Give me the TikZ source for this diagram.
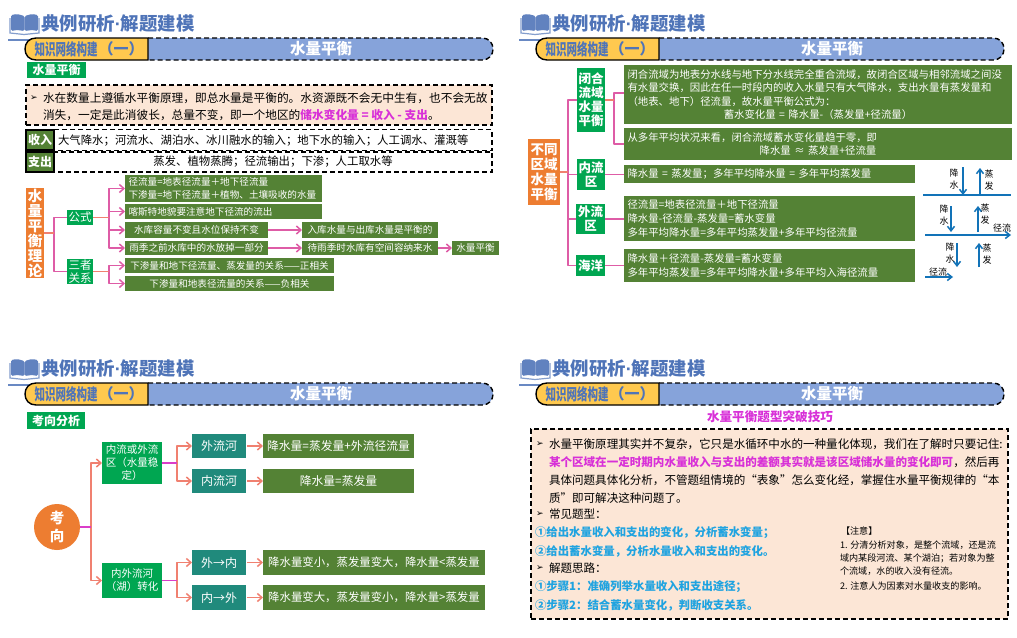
\documentclass[tikz,border=0pt]{standalone}
\usepackage{graphicx}
\usepackage{fontspec}
\setmainfont{Noto Sans CJK SC}
\newfontfamily\symf{DejaVu Sans}
\newfontfamily\dotf{Liberation Sans}
\usetikzlibrary{arrows.meta,calc}
\definecolor{ggreen}{HTML}{548235}
\definecolor{bgreen}{HTML}{00A651}
\definecolor{teal1}{HTML}{208A7C}
\definecolor{orng}{HTML}{ED7D31}
\definecolor{peach}{HTML}{FCE6D6}
\definecolor{pnk}{HTML}{DE5CA6}
\definecolor{salm}{HTML}{F08070}
\definecolor{magn}{HTML}{D830D8}
\definecolor{sky}{HTML}{1FA3E0}
\definecolor{arrowb}{HTML}{1273B8}
\definecolor{ttl}{HTML}{4F74B8}
\definecolor{pillb}{HTML}{86A3DA}
\definecolor{pillo}{HTML}{FFC94F}
\newcommand\fl[2]{\fontsize{#1}{#2}\selectfont}
\tikzset{
  boxbase/.style={inner sep=0pt,outer sep=0pt,text=white,align=center},
  dashbox/.style={draw=black,line width=1.4pt,dash pattern=on 5pt off 3pt},
  conn/.style={line width=1.6pt,line join=round},
  tip/.style={-{Straight Barb[length=4.5pt,width=8pt,line width=1.5pt]}},
  blue arrow/.style={draw=arrowb,line width=1.5pt,-{Straight Barb[length=4.5pt,width=7pt,line width=1.5pt]}},
  plain text/.style={inner sep=0pt,outer sep=0pt,anchor=west},
  small label/.style={inner sep=0pt,outer sep=0pt,font=\fl{9}{11.5},align=center,text=black}
}
% box: options, name, x1,y1,x2,y2, text
\newcommand\bx[7][]{%
  \node[boxbase,minimum width={(#5-#3)*1pt},minimum height={(#6-#4)*1pt},#1] (#2) at ({(#3+#5)/2},{(#4+#6)/2}) {#7};}
% left-aligned green box
\newcommand\lb[7][]{%
  \pgfmathsetlengthmacro{\tw}{(#5-#3-7)*1pt}%
  \node[boxbase,fill=ggreen,minimum height={(#6-#4)*1pt},text width=\tw,inner xsep=3.5pt,align=left,#1] (#2) at ({(#3+#5)/2},{(#4+#6)/2}) {#7};}
\newcounter{tln}
\newcommand\tl[4][]{\stepcounter{tln}\node[plain text,#1] (tl\arabic{tln}) at (#2,#3) {#4};}
% elbow connector: from, horizontal distance, to, tip style
\newcommand\elbow[4][tip]{%
  \draw[conn,pnk,#1] (#2.east) -- ++(#3,0) |- (#4.west);
  \draw[conn,salm] (#2.east) -- ++(#3,0);}
\newcommand\hdr[3]{%
\begin{scope}[shift={(#2,#3)}]
  \fill[ttl!90!white,rounded corners=1.5pt] (11,15) -- (17,14) -- (24.6,16) -- (24.6,31) -- (17,30) -- (11,31) -- cycle;
  \fill[ttl!90!white,rounded corners=1.5pt] (24.6,16) -- (32,14) -- (38,15) -- (38,31) -- (32,30) -- (24.6,31) -- cycle;
  \draw[ttl!70!white,line width=1.2pt] (10,18) -- (10,33) -- (24,34.5) -- (39,33) -- (39,18);
  \draw[ttl!85!white,line width=1.4pt] (8,40) -- (40,40);
  \node[inner sep=0pt,text=ttl,anchor=west,font=\fontsize{18.4}{18.4}\selectfont\bfseries] (#1ttl) at (41,24) {典例研析{\dotf ·}解题建模};
  \fill[pillb] (148,38) -- (482,38) .. controls (489,38) and (493,43) .. (493,49) .. controls (493,55) and (489,60) .. (482,60) -- (148,60) -- cycle;
  \draw[dashbox] (148,38) -- (482,38) .. controls (489,38) and (493,43) .. (493,49) .. controls (493,55) and (489,60) .. (482,60) -- (148,60);
  \draw[fill=pillo,draw=black,line width=1.4pt] (148,38) -- (36,38) .. controls (29,38) and (25,43) .. (25,49) .. controls (25,55) and (29,60) .. (36,60) -- (148,60) -- cycle;
  \node[inner sep=0pt,text=ttl,font=\fontsize{13}{13}\selectfont\bfseries] (#1left) at (66,49) {\resizebox{63pt}{14pt}{知识网络构建}};
  \node[inner sep=0pt,text=ttl,font=\fontsize{15}{15}\selectfont\bfseries] (#1one) at (121,49) {（一）};
  \node[inner sep=0pt,text=white,font=\fontsize{15.5}{15.5}\selectfont\bfseries] (#1mid) at (321,49) {水量平衡};
\end{scope}}
\begin{document}
\begin{tikzpicture}[x=1pt,y=-1pt]
\useasboundingbox (0,0) rectangle (1017,637);
\fill[white] (0,0) rectangle (1017,637);
\hdr{ha}{0}{0}
\hdr{hb}{511}{0}
\hdr{hc}{0}{345}
\hdr{hd}{511}{345}

%%%%%%%%%%%% panel 1
\bx[fill=bgreen,font=\fl{12}{14}\bfseries]{tagA}{27}{62}{86}{78}{水量平衡}
\node[fill=peach,dashbox,minimum width=466pt,minimum height=40pt,inner sep=0pt] (intro) at (259,105) {};
\tl[font=\symf\fl{9}{11}]{30}{98}{➢}
\tl[font=\fl{11.7}{14}]{43}{98}{水在数量上遵循水平衡原理，即总水量是平衡的。水资源既不会无中生有，也不会无故}
\tl[font=\fl{11.7}{14}]{43}{115}{消失，一定是此消彼长，总量不变，即一个地区的\textcolor{magn}{\bfseries 储水变化量 = 收入 - 支出}。}
\node[dashbox,minimum width=466pt,minimum height=21pt,inner sep=0pt] (rowA) at (259,140) {};
\node[dashbox,minimum width=466pt,minimum height=20pt,inner sep=0pt] (rowB) at (259,162) {};
\bx[fill=ggreen,draw=black,line width=1.4pt,font=\fl{12}{14}\bfseries]{lblA}{26}{130}{54}{150}{收入}
\bx[fill=ggreen,draw=black,line width=1.4pt,font=\fl{12}{14}\bfseries]{lblB}{26}{152}{54}{172}{支出}
\tl[font=\fl{11.4}{14}]{58}{141}{大气降水；河流水、湖泊水、冰川融水的输入；地下水的输入；人工调水、灌溉等}
\node[inner sep=0pt,font=\fl{11.4}{14}] (rowBt) at (273,162) {蒸发、植物蒸腾；径流输出；下渗；人工取水等};

\bx[fill=orng,font=\fl{14.5}{15}\bfseries]{rootA}{26}{188}{44}{278}{水\\量\\平\\衡\\理\\论}
\bx[fill=bgreen,font=\fl{11.5}{14}]{gongshi}{67}{210}{93}{225}{公式}
\bx[fill=bgreen,font=\fl{11.5}{13}]{sanzhe}{67}{259}{93}{284}{三者\\关系}
\lb[font=\fl{9.6}{12.5}]{a1}{125}{175}{322}{202}{径流量=地表径流量＋地下径流量\\下渗量=地下径流量＋植物、土壤吸收的水量}
\lb[font=\fl{9.6}{12.5}]{a2}{125}{204}{322}{219}{喀斯特地貌要注意地下径流的流出}
\bx[fill=ggreen,font=\fl{9.6}{12.5}]{a3}{125}{222}{268}{238}{水库容量不变且水位保持不变}
\bx[fill=ggreen,font=\fl{9.6}{12.5}]{a4}{125}{241}{268}{255}{雨季之前水库中的水放掉一部分}
\bx[fill=ggreen,font=\fl{9.6}{12.5}]{a5}{302}{222}{438}{238}{入库水量与出库水量是平衡的}
\bx[fill=ggreen,font=\fl{9.6}{12.5}]{a6}{302}{241}{438}{255}{待雨季时水库有空间容纳来水}
\bx[fill=ggreen,font=\fl{9.6}{12.5}]{a7}{452}{241}{499}{255}{水量平衡}
\bx[fill=ggreen,font=\fl{9.6}{12.5}]{a8}{125}{258}{334}{273}{下渗量和地下径流量、蒸发量的关系——正相关}
\bx[fill=ggreen,font=\fl{9.6}{12.5}]{a9}{125}{276}{334}{291}{下渗量和地表径流量的关系——负相关}
\elbow[]{rootA}{10}{gongshi}
\elbow[]{rootA}{10}{sanzhe}
\elbow{gongshi}{16}{a1}
\elbow{gongshi}{16}{a2}
\elbow{gongshi}{16}{a3}
\elbow{gongshi}{16}{a4}
\elbow{sanzhe}{16}{a8}
\elbow{sanzhe}{16}{a9}
\draw[conn,pnk,tip] (a3.east) -- (a5.west);
\draw[conn,pnk,tip] (a4.east) -- (a6.west);
\draw[conn,pnk,tip] (a6.east) -- (a7.west);

%%%%%%%%%%%% panel 2
\bx[fill=orng,font=\fl{13.5}{15}\bfseries]{rootB}{528}{139}{560}{205}{不同\\区域\\水量\\平衡}
\bx[fill=bgreen,font=\fl{12.5}{14}\bfseries]{n1}{577}{68}{605}{132}{闭合\\流域\\水量\\平衡}
\bx[fill=bgreen,font=\fl{12.5}{14}\bfseries]{n2}{577}{159}{605}{190}{内流\\区}
\bx[fill=bgreen,font=\fl{12.5}{14}\bfseries]{n3}{576}{204}{605}{234}{外流\\区}
\bx[fill=bgreen,font=\fl{12.5}{14}\bfseries]{n4}{576}{255}{605}{276}{海洋}
\pgfmathsetlengthmacro{\wgone}{381pt}
\lb[font=\fl{10.4}{13.4}]{g1}{624}{65}{1012}{124}{闭合流域为地表分水线与地下分水线完全重合流域，故闭合区域与相邻流域之间没\\有水量交换，因此在任一时段内的收入水量只有大气降水，支出水量有蒸发量和\\（地表、地下）径流量，故水量平衡公式为：\\\hbox to \wgone{\hss 蓄水变化量 = 降水量-（蒸发量+径流量）\hss}}
\lb[font=\fl{10.4}{13.4}]{g2}{624}{128}{1012}{160}{从多年平均状况来看，闭合流域蓄水变化量趋于零，即\\\hbox to \wgone{\hss 降水量 ≈ 蒸发量+径流量\hss}}
\lb[font=\fl{10.4}{13.4}]{g3}{624}{165}{915}{183}{降水量 = 蒸发量；多年平均降水量 = 多年平均蒸发量}
\lb[font=\fl{10.4}{14}]{g4}{624}{196}{915}{241}{径流量=地表径流量＋地下径流量\\降水量-径流量-蒸发量=蓄水变量\\多年平均降水量=多年平均蒸发量+多年平均径流量}
\lb[font=\fl{10.4}{14}]{g5}{624}{249}{915}{282}{降水量＋径流量-蒸发量=蓄水变量\\多年平均蒸发量=多年平均降水量+多年平均入海径流量}
\elbow[]{rootB}{8}{n1}
\elbow[]{rootB}{8}{n2}
\elbow[]{rootB}{8}{n3}
\elbow[]{rootB}{8}{n4}
\coordinate (g1in) at (624,93);
\coordinate (g2in) at (624,144);
\draw[conn,pnk] (n1.east) -- ++(9,0) |- (g1in);
\draw[conn,pnk] (n1.east) -- ++(9,0) |- (g2in);
\draw[conn,salm] (n1.east) -- ++(9,0);
\draw[conn,pnk] (n2.east) -- (n2.east-|g3.west);
\draw[conn,pnk] (n3.east) -- (n3.east-|g4.west);
\draw[conn,pnk] (n4.east) -- (n4.east-|g5.west);

% water balance sketches
\coordinate (l1a) at (923,195); \coordinate (l1b) at (1011,195);
\draw[arrowb,line width=1.5pt] (l1a) -- (l1b);
\coordinate (p1) at (963,167); \coordinate (p1e) at (963,195);
\coordinate (e1) at (980,195); \coordinate (e1e) at (980,168);
\draw[blue arrow] (p1) -- (p1e);
\draw[blue arrow] (e1) -- (e1e);
\node[small label] (t1) at (954,179) {降\\水};
\node[small label] (t2) at (989,180) {蒸\\发};
\coordinate (l2a) at (925,235); \coordinate (l2b) at (1011,235);
\draw[blue arrow] (l2a) -- (l2b);
\coordinate (p2) at (951,206); \coordinate (p2e) at (951,232);
\coordinate (e2) at (978,232); \coordinate (e2e) at (978,206);
\draw[blue arrow] (p2) -- (p2e);
\draw[blue arrow] (e2) -- (e2e);
\node[small label] (t3) at (944,215) {降\\水};
\node[small label] (t4) at (985,214) {蒸\\发};
\node[small label] (t5) at (1002,228) {径流};
\coordinate (p3) at (957,243); \coordinate (p3e) at (957,267);
\coordinate (e3) at (979,267); \coordinate (e3e) at (979,243);
\coordinate (r3) at (925,277); \coordinate (r3e) at (953,277);
\draw[blue arrow] (p3) -- (p3e);
\draw[blue arrow] (e3) -- (e3e);
\draw[blue arrow] (r3) -- (r3e);
\node[small label] (t6) at (950,253) {降\\水};
\node[small label] (t7) at (987,254) {蒸\\发};
\node[small label] (t8) at (938,272) {径流};

%%%%%%%%%%%% panel 3
\bx[fill=bgreen,font=\fl{12}{14}\bfseries]{tagC}{27}{412}{85}{429}{考向分析}
\node[circle,fill=orng,minimum size=46pt,inner sep=0pt,outer sep=0pt,text=white,align=center,font=\fl{14.5}{18}\bfseries] (rootC) at (57,527) {考\\向};
\bx[fill=bgreen,font=\fl{10.5}{13}]{p1n}{102}{442}{162}{484}{内流或外流\\区（水量稳\\定）}
\bx[fill=bgreen,font=\fl{10.5}{13}]{p2n}{102}{563}{162}{598}{内外流河\\（湖）转化}
\bx[fill=teal1,font=\fl{12}{14}]{r1}{192}{434}{246}{458}{外流河}
\bx[fill=teal1,font=\fl{12}{14}]{r2}{192}{469}{246}{493}{内流河}
\bx[fill=teal1,font=\fl{12}{14}]{r3n}{192}{550}{246}{575}{外→内}
\bx[fill=teal1,font=\fl{12}{14}]{r4}{192}{585}{246}{610}{内→外}
\bx[fill=ggreen,font=\fl{11.8}{14}]{s1}{263}{434}{414}{458}{降水量=蒸发量+外流径流量}
\bx[fill=ggreen,font=\fl{11.8}{14}]{s2}{263}{469}{414}{493}{降水量=蒸发量}
\bx[fill=ggreen,font=\fl{11.4}{14}]{s3}{263}{550}{485}{575}{降水量变小，蒸发量变大，降水量<蒸发量}
\bx[fill=ggreen,font=\fl{11.4}{14}]{s4}{263}{585}{485}{610}{降水量变大，蒸发量变小，降水量>蒸发量}
\newcommand\elbowc[3]{%
  \draw[conn,salm,tip] (#1.east) -- ++(#2,0) |- (#3.west);
  \draw[conn,magn!70!pnk] (#1.east) -- ++(#2,0);}
\elbowc{rootC}{11}{p1n}
\elbowc{rootC}{11}{p2n}
\elbowc{p1n}{15}{r1}
\elbowc{p1n}{15}{r2}
\elbowc{p2n}{15}{r3n}
\elbowc{p2n}{15}{r4}
\draw[conn,salm,tip] (r1.east) ++(1,0) -- (s1.west);
\draw[conn,salm,tip] (r2.east) ++(1,0) -- (s2.west);
\draw[conn,salm,tip] (r3n.east) ++(1,0) -- (s3.west);
\draw[conn,salm,tip] (r4.east) ++(1,0) -- (s4.west);

%%%%%%%%%%%% panel 4
\node[inner sep=0pt,text=magn,font=\fl{12.6}{15}\bfseries] (ttlD) at (770,417) {水量平衡题型突破技巧};
\node[fill=peach,dashbox,minimum width=477pt,minimum height=190pt,inner sep=0pt] (boxD) at (769.5,524) {};
\tl[font=\symf\fl{9}{11}]{536}{444}{➢}
\tl[font=\fl{11.55}{14}]{549}{444}{水量平衡原理其实并不复杂，它只是水循环中水的一种量化体现，我们在了解时只要记住:}
\tl[font=\fl{11.55}{14}]{549}{462}{\textcolor{magn}{\bfseries 某个区域在一定时期内水量收入与支出的差额其实就是该区域储水量的变化即可}，然后再}
\tl[font=\fl{11.55}{14}]{549}{480}{具体问题具体化分析，不管题组情境的“表象”怎么变化经，掌握住水量平衡规律的“本}
\tl[font=\fl{11.55}{14}]{549}{498}{质”即可解决这种问题了。}
\tl[font=\symf\fl{9}{11}]{536}{514}{➢}
\tl[font=\fl{11.55}{14}]{549}{514}{常见题型：}
\tl[font=\fl{11.4}{14}\bfseries,text=sky]{535}{533}{①给出水量收入和支出的变化，分析蓄水变量；}
\tl[font=\fl{11.4}{14}\bfseries,text=sky]{535}{551}{②给出蓄水变量，分析水量收入和支出的变化。}
\tl[font=\symf\fl{9}{11}]{536}{568}{➢}
\tl[font=\fl{11.55}{14}]{549}{568}{解题思路：}
\tl[font=\fl{11.4}{14}\bfseries,text=sky]{535}{587}{①步骤1：准确列举水量收入和支出途径；}
\tl[font=\fl{11.4}{14}\bfseries,text=sky]{535}{605}{②步骤2：结合蓄水量变化，判断收支关系。}
\tl[font=\fl{9.1}{11}]{841}{531}{【注意】}
\tl[font=\fl{9.1}{11}]{840}{545}{1. 分清分析对象，是整个流域，还是流}
\tl[font=\fl{9.1}{11}]{840}{558}{域内某段河流、某个湖泊；若对象为整}
\tl[font=\fl{9.1}{11}]{840}{571}{个流域，水的收入没有径流。}
\tl[font=\fl{9.1}{11}]{840}{586}{2. 注意人为因素对水量收支的影响。}
\end{tikzpicture}
\end{document}
